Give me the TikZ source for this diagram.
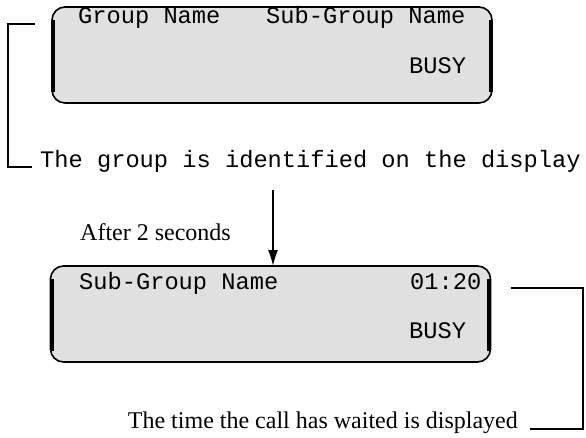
\documentclass[tikz,border=0pt]{standalone}
\usepackage{fontspec}
\setmainfont{Liberation Serif}
\newfontfamily\lcdfont{Liberation Mono}
\usetikzlibrary{arrows.meta,calc}
\definecolor{lcdgray}{RGB}{224,224,224}
\tikzset{
  lcd/.style={draw=black, fill=lcdgray, line width=1.6pt, rounded corners=13pt,
    minimum width=440pt, minimum height=96pt, inner sep=0pt, outer sep=0pt},
  lcdside/.style={line width=4pt, line cap=butt},
  lcdtext/.style={font=\lcdfont\fontsize{23.7}{26}\selectfont, inner sep=0pt, anchor=base west},
  monolabel/.style={font=\lcdfont\fontsize{23.7}{26}\selectfont, inner sep=0pt, anchor=base west},
  seriflabel/.style={font=\fontsize{24}{28}\selectfont, inner sep=0pt},
  bracket/.style={line width=1.5pt},
  arrowline/.style={line width=1.5pt, -{Latex[length=16pt,width=10pt]}}
}
\begin{document}
\begin{tikzpicture}[x=1pt,y=-1pt]
\useasboundingbox (0,0) rectangle (586,437);
% top display
\node[lcd] (d1) at (272,55) {};
\draw[lcdside] ([xshift=1.2pt,yshift=-13pt]d1.north west) -- ([xshift=1.2pt,yshift=11pt]d1.south west);
\draw[lcdside] ([xshift=-1.2pt,yshift=-13pt]d1.north east) -- ([xshift=-1.2pt,yshift=11pt]d1.south east);
\node[lcdtext] (d1a) at (78,23) {Group Name};
\node[lcdtext] (d1b) at (266,23) {Sub-Group Name};
\node[lcdtext] (d1c) at (409,73) {BUSY};
% label 1
\node[monolabel] (t1) at (40,167) {The group is identified on the display};
\coordinate (lbtop) at (35,24);
\draw[bracket] (lbtop) -| ([xshift=-32pt]t1.base west) -- ([xshift=-8pt]t1.base west);
% arrow
\coordinate (arrtop) at (273,190);
\node[seriflabel, anchor=base west] (after) at (80,240) {After 2 seconds};
% bottom display
\node[lcd] (d2) at (270.5,314) {};
\draw[lcdside] ([xshift=1.2pt,yshift=-13pt]d2.north west) -- ([xshift=1.2pt,yshift=11pt]d2.south west);
\draw[lcdside] ([xshift=-1.2pt,yshift=-13pt]d2.north east) -- ([xshift=-1.2pt,yshift=11pt]d2.south east);
\draw[arrowline] (arrtop) -- (arrtop |- d2.north);
\node[lcdtext] (d2a) at (79,289) {Sub-Group Name};
\node[lcdtext] (d2b) at (410,289) {01:20};
\node[lcdtext] (d2c) at (409,338) {BUSY};
% label 2
\node[seriflabel, anchor=base east] (t2) at (518,428) {The time the call has waited is displayed};
\coordinate (rbtop) at (511,288);
\draw[bracket] (rbtop) -| ([xshift=65pt,yshift=-1pt]t2.base east) -- ([xshift=12pt,yshift=-1pt]t2.base east);
\end{tikzpicture}
\end{document}
